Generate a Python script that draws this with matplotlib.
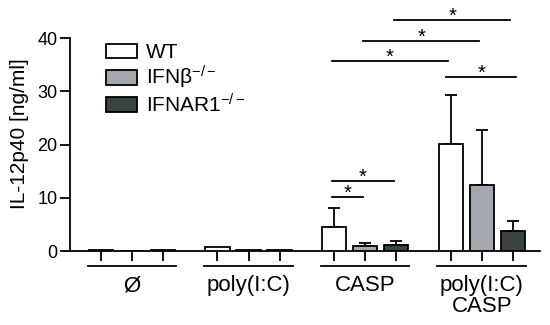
import matplotlib
matplotlib.use("Agg")
import matplotlib.pyplot as plt
import numpy as np

plt.rcParams['font.family'] = ['Liberation Sans', 'DejaVu Sans']
plt.rcParams['mathtext.fontset'] = 'custom'
plt.rcParams['mathtext.rm'] = 'Liberation Sans'
plt.rcParams['mathtext.it'] = 'Liberation Sans'

groups = ['Ø', 'poly(I:C)', 'CASP', 'poly(I:C)\nCASP']
series = ['WT', 'IFNβ$^{-/-}$', 'IFNAR1$^{-/-}$']
wt = [0.1, 0.8, 4.45, 20.1]
wt_err = [0.0, 0.0, 3.6, 9.2]
ifnb = [0.05, 0.2, 1.0, 12.4]
ifnb_err = [0.0, 0.0, 0.5, 10.4]
ifnar = [0.2, 0.25, 1.2, 3.75]
ifnar_err = [0.0, 0.0, 0.7, 1.95]
colors = ['white', '#a3a7b0', '#3b4242']

# significance brackets: (group_a, bar_a, group_b, bar_b, y)
sig_pairs = [
    (2, 0, 2, 1, 10.2),
    (2, 0, 2, 2, 13.2),
    (3, 0, 3, 2, 32.6),
    (2, 0, 3, 0, 35.6),
    (2, 1, 3, 1, 39.4),
    (2, 2, 3, 2, 43.3),
]

fig = plt.figure(figsize=(5.5, 3.25), dpi=100)
ax = fig.add_axes([70/550, 1-251/325, 470/550, 213/325])

x = np.arange(len(groups))
off = 0.266
w = 0.208
vals = [wt, ifnb, ifnar]
errs = [wt_err, ifnb_err, ifnar_err]
for i, (v, e, c, lab) in enumerate(zip(vals, errs, colors, series)):
    pos = x + (i - 1) * off
    ax.bar(pos, v, width=w, color=c, edgecolor='black', linewidth=1.3, label=lab, zorder=3)
    e_arr = np.array(e)
    mask = e_arr > 0
    ax.errorbar(pos[mask], np.array(v)[mask], yerr=[np.zeros(mask.sum()), e_arr[mask]],
                fmt='none', ecolor='black', elinewidth=1.3, capsize=4.5, capthick=1.3, zorder=2)

ax.set_xlim(-0.531, 3.5)
ax.set_ylim(0, 40)
ax.set_yticks([0, 10, 20, 30, 40])
ax.tick_params(axis='y', labelsize=13, length=7, width=1.3, pad=2)
allpos = np.sort(np.concatenate([x - off, x, x + off]))
ax.set_xticks(allpos)
ax.set_xticklabels([])
ax.tick_params(axis='x', length=7, width=1.3)
for s in ['top', 'right']:
    ax.spines[s].set_visible(False)
for s in ['left', 'bottom']:
    ax.spines[s].set_linewidth(1.3)

ax.set_ylabel('IL-12p40 [ng/ml]', fontsize=15)
ax.yaxis.set_label_coords(-0.088, 0.55)

# group underlines and labels
for xi, g in zip(x, groups):
    ax.plot([xi - 0.38, xi + 0.38], [-2.8, -2.8], color='black', lw=1.3, clip_on=False)
    ax.text(xi, -4.6, g, ha='center', va='top', fontsize=16, linespacing=0.95)

# significance
for ga, ba, gb, bb, yy in sig_pairs:
    xa = x[ga] + (ba - 1) * off - 0.02
    xb = x[gb] + (bb - 1) * off - 0.02
    if ga == 3 and gb == 3:
        xa -= 0.02
        xb += 0.05
    ax.plot([xa, xb], [yy, yy], color='black', lw=1.3, clip_on=False)
    ax.text((xa + xb) / 2, yy - 0.35, '*', ha='center', va='baseline', fontsize=14.5)

leg = ax.legend(loc='upper left', bbox_to_anchor=(36/470, 0.975), frameon=False, fontsize=15,
                handlelength=1.5, handleheight=0.7, labelspacing=0.08, handletextpad=0.4,
                borderpad=0, borderaxespad=0)

fig.savefig('out.png', dpi=100)
